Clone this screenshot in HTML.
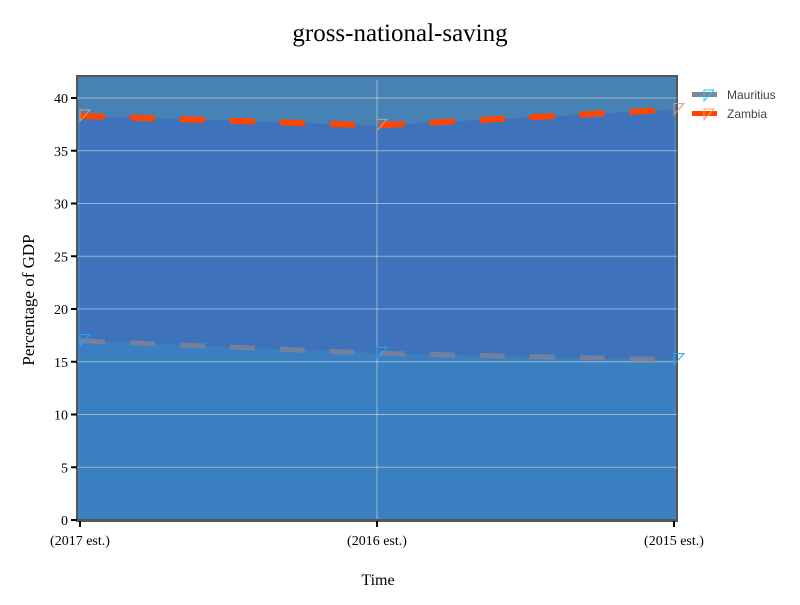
<!DOCTYPE html>
<html><head><meta charset="utf-8"><style>
body{margin:0;background:#fff;font-family:"Liberation Serif",serif}
svg text{font-family:"Liberation Serif",serif}
</style></head><body>
<svg width="800" height="600" id="c">
<text x="400" y="41" text-anchor="middle" font-size="25">gross-national-saving</text>
<text x="378" y="585" text-anchor="middle" font-size="16">Time</text>
<text transform="translate(34,300) rotate(-90)" text-anchor="middle" font-size="17">Percentage of GDP</text>
<g id="plot"></g>
<g font-family="Liberation Sans" >
<g>
<rect x="692" y="92" width="25" height="5" fill="#7a8799"/>
<path d="M704 90 L714 90 L704 101 Z" fill="none" stroke="#1ec8ff" stroke-width="1"/>
<text x="727" y="99" font-size="12" fill="#444" style="font-family:'Liberation Sans',sans-serif">Mauritius</text></g>
<g>
<rect x="692" y="111" width="25" height="5" fill="#ff4500"/>
<path d="M704 109 L714 109 L704 120 Z" fill="none" stroke="#f4a070" stroke-width="1"/>
<text x="727" y="118" font-size="12" fill="#444" style="font-family:'Liberation Sans',sans-serif">Zambia</text></g>
</g>
</svg>
<script>
const categories=["(2017 est.)","(2016 est.)","(2015 est.)"];
const mauritius=[17.0,15.8,15.2];
const zambia=[38.3,37.4,38.9];
const yTicks=[0,5,10,15,20,25,30,35,40];
const NS="http://www.w3.org/2000/svg";
const L=77,R=677,T=76,B=521;
const xs=i=>80+i*(674-80)/(categories.length-1);
const ys=v=>520-v*(520-98)/40;
const g=document.getElementById('plot');
function mk(t,a,p){const e=document.createElementNS(NS,t);for(const k in a)e.setAttribute(k,a[k]);(p||g).appendChild(e);return e;}
const bg=mk('rect',{x:L,y:T,width:R-L,height:B-T,fill:'#4682b4',stroke:'#555',"stroke-width":2});


const pts=a=>a.map((v,i)=>xs(i)+','+ys(v)).join(' L');
const za=mk('path',{d:'M'+pts(zambia)+' L'+xs(2)+','+ys(0)+' L'+xs(0)+','+ys(0)+' Z',fill:'#3e72bb'});


const ma=mk('path',{d:'M'+pts(mauritius)+' L'+xs(2)+','+ys(0)+' L'+xs(0)+','+ys(0)+' Z',fill:'#3a80c0'});


yTicks.forEach(v=>{
 const l=mk('line',{x1:L,x2:R,y1:ys(v),y2:ys(v),stroke:'rgba(220,220,220,0.6)',"stroke-width":1});
 
 
 mk('line',{x1:71,x2:77,y1:ys(v),y2:ys(v),stroke:'#000',"stroke-width":2});
 const t=mk('text',{x:68,y:ys(v)+5,"text-anchor":"end","font-size":14});t.textContent=v;
 
 
});
mk('line',{x1:xs(1),x2:xs(1),y1:80,y2:B,stroke:'rgba(220,220,220,0.6)',"stroke-width":1});
mk('line',{x1:L,x2:R,y1:520,y2:520,stroke:'#555',"stroke-width":2});
categories.forEach((c,i)=>{
 mk('line',{x1:xs(i),x2:xs(i),y1:521,y2:527,stroke:'#000',"stroke-width":2});
 const t=mk('text',{x:xs(i),y:545,"text-anchor":"middle","font-size":14});t.textContent=c;
 
 
});
const ml=mk('path',{d:'M'+pts(mauritius),fill:'none',stroke:'#7a7f9a',"stroke-width":5,"stroke-dasharray":"25,25","stroke-opacity":0.9});


const zl=mk('path',{d:'M'+pts(zambia),fill:'none',stroke:'#ff4500',"stroke-width":6,"stroke-dasharray":"25,25"});


mauritius.forEach((v,i)=>{const m=mk('path',{d:`M${xs(i)} ${ys(v)-6} L${xs(i)+10} ${ys(v)-6} L${xs(i)} ${ys(v)+5} Z`,fill:'none',stroke:'#1ea8ff',"stroke-width":1});
 
 });
zambia.forEach((v,i)=>{const m=mk('path',{d:`M${xs(i)} ${ys(v)-6} L${xs(i)+10} ${ys(v)-6} L${xs(i)} ${ys(v)+5} Z`,fill:'none',stroke:'#d4a080',"stroke-width":1});
 
 });
</script>
</body></html>
